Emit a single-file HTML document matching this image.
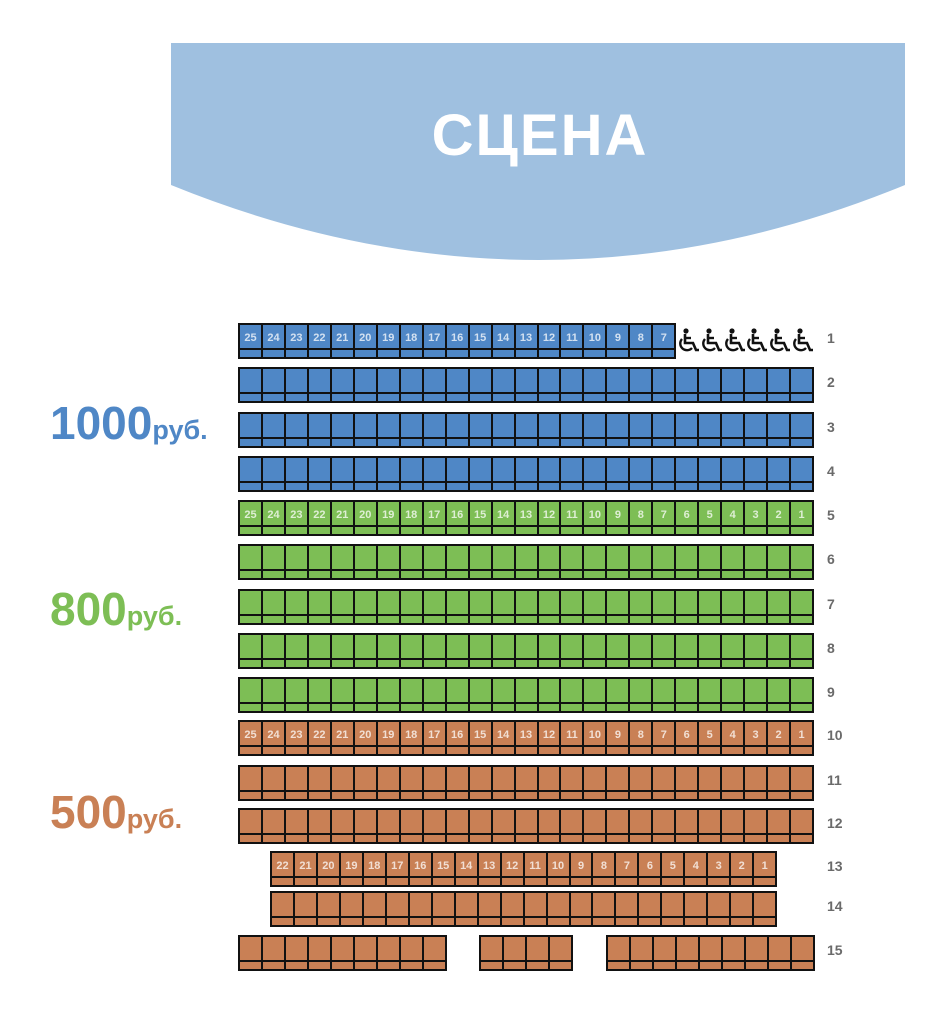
<!DOCTYPE html>
<html><head><meta charset="utf-8"><style>
body{margin:0;width:934px;height:1024px;background:#fff;position:relative;overflow:hidden;font-family:"Liberation Sans",sans-serif}
.seat{position:absolute;box-sizing:border-box;border:2px solid #111;height:36px}
.seat .n{position:absolute;left:0;right:0;top:7px;text-align:center;font-size:11px;font-weight:bold;color:rgba(255,255,255,.75)}
.seat .s{position:absolute;left:0;right:0;bottom:0;height:7px;border-top:2px solid #111}
.rn{position:absolute;left:827px;font-size:14px;font-weight:bold;color:#6a6a6a}
.price{position:absolute;font-weight:bold;font-size:46px}
.price span{font-size:27px}
.wc{position:absolute;top:328px}
</style></head><body>
<svg style="position:absolute;left:0;top:0" width="934" height="300">
<path d="M171 43 H905 V185 Q540 335 171 185 Z" fill="#9fc0e0"/>
<text x="540" y="155" text-anchor="middle" fill="#fff" font-family="Liberation Sans" font-weight="bold" font-size="58" letter-spacing="2">СЦЕНА</text>
</svg>
<div class="price" style="left:50px;top:396px;color:#4f87c6">1000<span>руб.</span></div>
<div class="price" style="left:50px;top:582px;color:#7dbe55">800<span>руб.</span></div>
<div class="price" style="left:50px;top:785px;color:#c98055">500<span>руб.</span></div>
<div id="c"></div>
<script>
var W=22.96,h='';
var B='#4f87c6',G='#7dbe55',R='#c98055';
function seat(x,y,col,num){h+='<div class="seat" style="left:'+x.toFixed(1)+'px;top:'+y+'px;width:'+(W+2).toFixed(1)+'px;background:'+col+'">'+(num?'<div class="n">'+num+'</div>':'')+'<div class="s"></div></div>';}
var icon='<svg width="24" height="26" viewBox="0 0 24 26"><circle cx="9" cy="3" r="2.6" fill="#111"/><path d="M8 6 V15 H16 L19 22 H22" fill="none" stroke="#111" stroke-width="2.6"/><path d="M8 10 H14" stroke="#111" stroke-width="2.4"/><path d="M5 11 A6.5 6.5 0 1 0 15 20" fill="none" stroke="#111" stroke-width="2.4"/></svg>';
var rows=[[323,B],[367,B],[412,B],[456,B],[500,G],[544,G],[589,G],[633,G],[677,G],[720,R],[765,R],[808,R],[851,R],[891,R],[935,R]];
rows.forEach(function(r,i){
 var y=r[0],c=r[1],n=i+1;
 if(n==1){for(var k=0;k<19;k++)seat(238+k*W,y,c,25-k);
  for(var k=0;k<6;k++)h+='<div class="wc" style="left:'+(677+k*22.8)+'px">'+icon+'</div>';}
 else if(n==13||n==14){for(var k=0;k<22;k++)seat(270+k*W,y,c,n==13?22-k:0);}
 else if(n==15){for(var k=0;k<9;k++)seat(238+k*W,y,c,0);for(var k=0;k<4;k++)seat(479+k*W,y,c,0);for(var k=0;k<9;k++)seat(606+k*W,y,c,0);}
 else{for(var k=0;k<25;k++)seat(238+k*W,y,c,(n==5||n==10)?25-k:0);}
 h+='<div class="rn" style="top:'+(y+7)+'px">'+n+'</div>';
});
document.getElementById('c').innerHTML=h;
</script>
</body></html>
